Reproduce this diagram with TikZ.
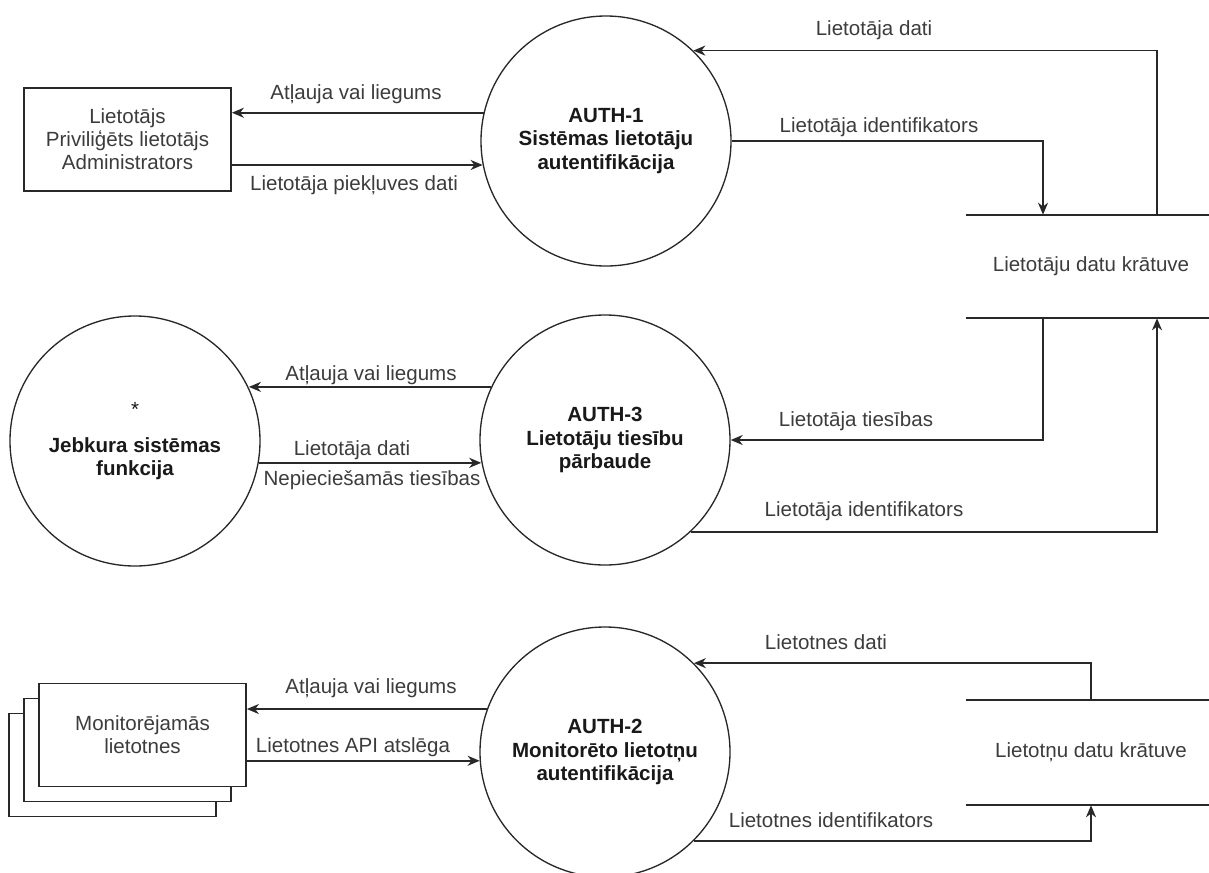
\documentclass[tikz,border=0pt]{standalone}
\usepackage{fontspec}
\setmainfont{Liberation Sans}
\usetikzlibrary{positioning, arrows.meta, calc}
\definecolor{linegray}{RGB}{40, 40, 40}
\definecolor{textgray}{RGB}{60, 60, 60}
\newcommand{\dfdfont}{\fontsize{15.4pt}{17.3pt}\selectfont}

\begin{document}
\begin{tikzpicture}[
    x=0.75pt, y=-0.75pt,
    procnode/.style={
        circle,
        draw=linegray,
        line width=1pt,
        minimum size=187.5pt,
        inner sep=0pt,
        align=center,
        font=\dfdfont\bfseries,
        text=black!90
    },
    extbox/.style={
        rectangle,
        draw=linegray,
        line width=1.3pt,
        fill=white,
        minimum width=155.25pt,
        minimum height=77.25pt,
        align=center,
        font=\dfdfont,
        text=textgray
    },
    storebox/.style={rectangle, minimum width=187.5pt, minimum height=77.25pt, align=center, font=\dfdfont, text=textgray},
    storeline/.style={draw=linegray, line width=1.3pt},
    flow/.style={draw=linegray, line width=1.3pt, -{Stealth[length=9pt, width=7.5pt, inset=2.8pt]}},
    flowlabel/.style={font=\dfdfont, text=textgray, inner sep=1pt}
]
    \useasboundingbox (0,0) rectangle (1209,872);

    % --- Row 1: user authentication ---

    % Nodes
    \node[extbox] (users) at (127.5,139.5) {
        Lietotājs\\
        Priviliģēts lietotājs\\
        Administrators
    };

    \node[procnode] (auth1) at (606,141) {
        AUTH-1\\
        Sistēmas lietotāju\\
        autentifikācija
    };

    \node[storebox] (userstore) at (1091,266.5) {Lietotāju datu krātuve};
    \draw[storeline] (userstore.north west) -- (userstore.north east);
    \draw[storeline] (userstore.south west) -- (userstore.south east);

    \coordinate (us-in) at ($(userstore.north)+(-48,0)$);
    \coordinate (us-out) at ($(userstore.north)+(66,0)$);
    \coordinate (us-rights) at ($(userstore.south)+(-48,0)$);
    \coordinate (us-back) at ($(userstore.south)+(66,0)$);

    % Arrows
    \draw[flow] (auth1.167) -- (auth1.167 -| users.east);
    \draw[flow] (auth1.191 -| users.east) -- (auth1.191);
    \draw[flow] (auth1.east) -| (us-in);
    \draw[flow] (us-out) |- (auth1.46);

    % Labels
    \node[flowlabel] (lbl-deny1) at (356,94) {Atļauja vai liegums};
    \node[flowlabel] (lbl-cred) at (354,185) {Lietotāja piekļuves dati};
    \node[flowlabel] (lbl-uid1) at (879,127) {Lietotāja identifikators};
    \node[flowlabel] (lbl-udata1) at (874,30) {Lietotāja dati};


    % --- Row 2: permission check ---

    % Nodes
    \node[procnode] (anyfunc) at (135,441) {
        {\mdseries *}\\[10pt]
        Jebkura sistēmas\\
        funkcija
    };

    \node[procnode] (auth3) at (605,440) {
        AUTH-3\\
        Lietotāju tiesību\\
        pārbaude
    };

    % Arrows
    \draw[flow] (auth3.155) -- (auth3.155 -| anyfunc.25);
    \draw[flow] (anyfunc.350) -- (anyfunc.350 -| auth3.190);
    \draw[flow] (us-rights) |- (auth3.east);
    \draw[flow] (auth3.-47) -| (us-back);

    % Labels
    \node[flowlabel] (lbl-deny2) at (371,375) {Atļauja vai liegums};
    \node[flowlabel] (lbl-udata2) at (352,450) {Lietotāja dati};
    \node[flowlabel] (lbl-perm) at (372,480) {Nepieciešamās tiesības};
    \node[flowlabel] (lbl-rights) at (856,421) {Lietotāja tiesības};
    \node[flowlabel] (lbl-uid2) at (864,511) {Lietotāja identifikators};


    % --- Row 3: application authentication ---

    % Nodes (stacked copies first)
    \node[extbox] (apps-back) at (112.5,765) {};
    \node[extbox] (apps-mid) at (127.5,750) {};
    \node[extbox] (apps) at (142.5,735) {
        Monitorējamās\\
        lietotnes
    };

    \node[procnode] (auth2) at (605,752) {
        AUTH-2\\
        Monitorēto lietotņu\\
        autentifikācija
    };

    \node[storebox, minimum height=78.75pt] (appstore) at (1091,752.5) {Lietotņu datu krātuve};
    \draw[storeline] (appstore.north west) -- (appstore.north east);
    \draw[storeline] (appstore.south west) -- (appstore.south east);

    % Arrows
    \draw[flow] (auth2.160) -- (auth2.160 -| apps.east);
    \draw[flow] (auth2.184 -| apps.east) -- (auth2.184);
    \draw[flow] (appstore.north) |- (auth2.45);
    \draw[flow] (auth2.-45) -| (appstore.south);

    % Labels
    \node[flowlabel] (lbl-deny3) at (371,688) {Atļauja vai liegums};
    \node[flowlabel] (lbl-key) at (353,747) {Lietotnes API atslēga};
    \node[flowlabel] (lbl-adata) at (826,642) {Lietotnes dati};
    \node[flowlabel] (lbl-aid) at (831,820) {Lietotnes identifikators};

\end{tikzpicture}
\end{document}
